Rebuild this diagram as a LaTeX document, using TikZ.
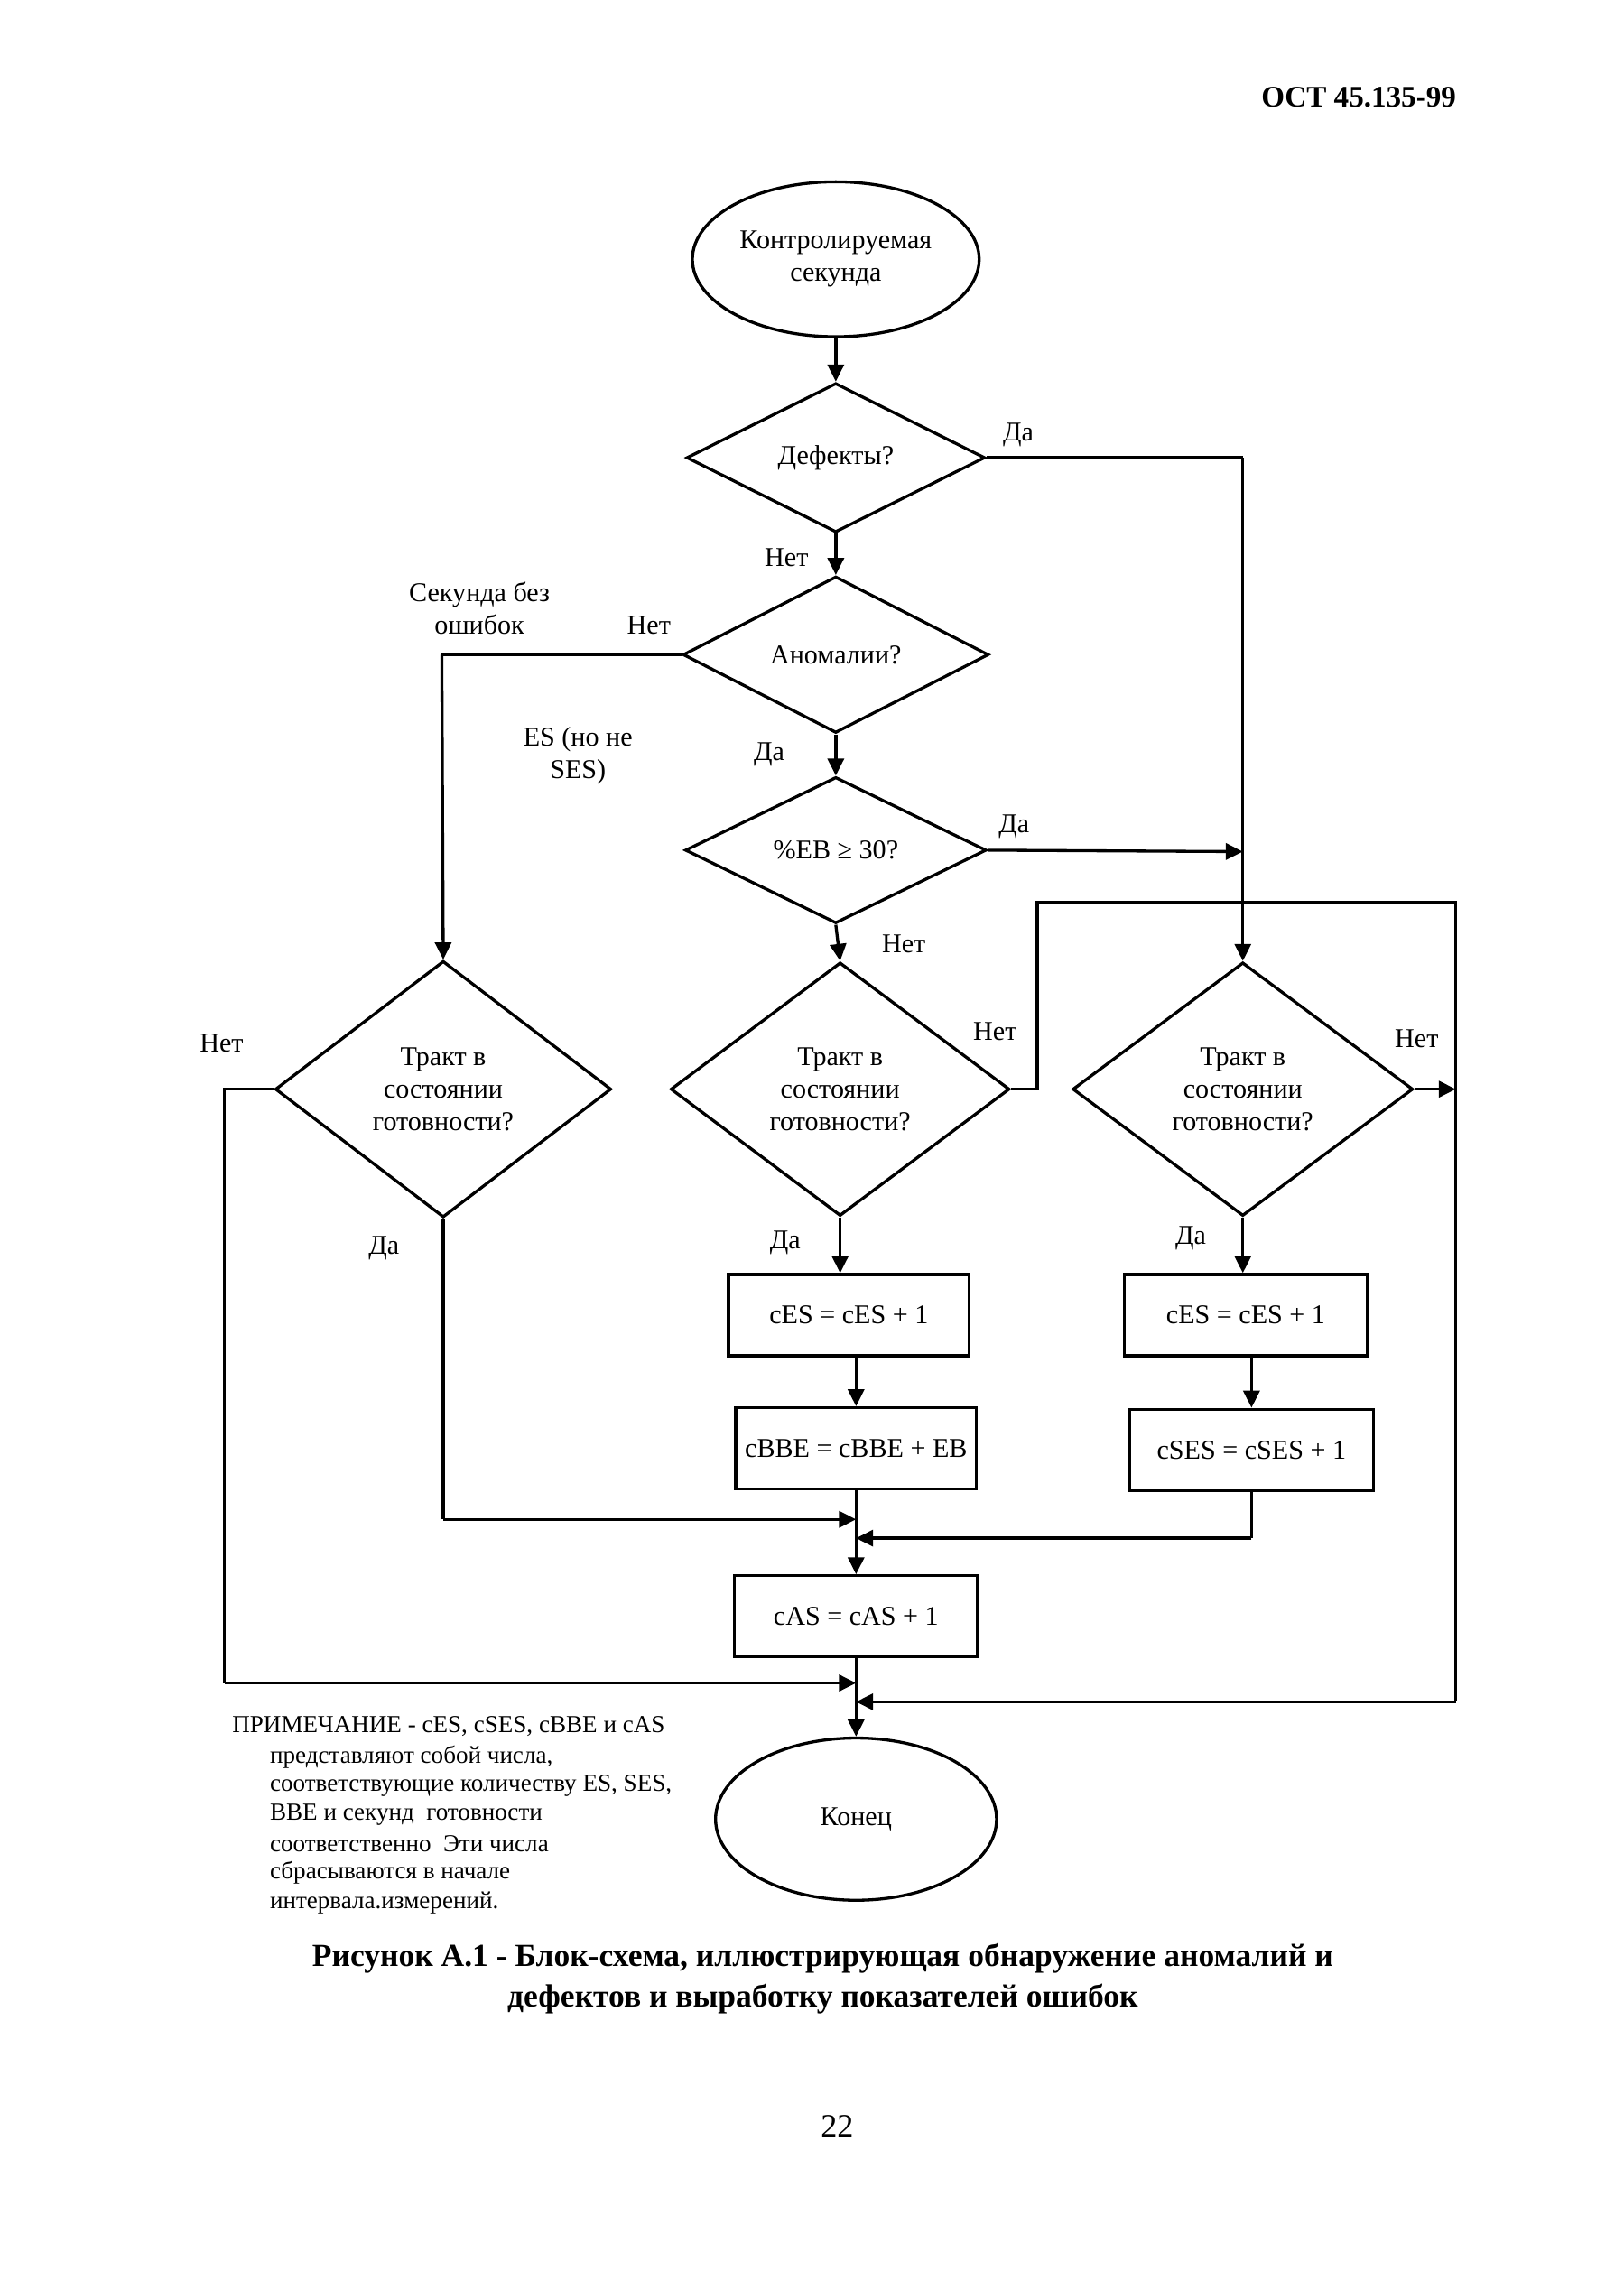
\documentclass[tikz,border=0pt]{standalone}
\usepackage{fontspec}
\setmainfont{Liberation Serif}
\usetikzlibrary{shapes.geometric,arrows.meta}
\begin{document}
\begin{tikzpicture}[x=0.18733mm,y=-0.18733mm,
  txt/.style={font=\fontsize{10}{12}\selectfont},
  dia/.style={diamond, draw, line width=1.1pt, inner sep=0pt, align=center, txt},
  box/.style={rectangle, draw, line width=1.1pt, minimum width=31.1mm, minimum height=10.5mm, inner sep=0pt, txt},
  ell/.style={ellipse, draw, line width=1.1pt, inner sep=0pt, align=center, txt},
  ln/.style={line width=1.1pt},
  arr/.style={line width=1.1pt, -{Triangle[length=2.2mm,width=2.1mm]}},
  lbl/.style={inner sep=0pt, align=center, txt},
  note/.style={inner sep=0pt, anchor=west, font=\fontsize{9}{10.6}\selectfont}
]
\useasboundingbox (0,0) rectangle (1121,1568);

% header
\node[inner sep=0pt, font=\fontsize{11}{13}\selectfont\bfseries] (hdr) at (938,67) {ОСТ 45.135-99};

% nodes
\node[ell, minimum width=37.09mm, minimum height=20.04mm] (E1) at (577,179) {Контролируемая\\секунда};
\node[dia, minimum width=38.59mm, minimum height=19.3mm] (D1) at (577,316) {Дефекты?};
\node[dia, minimum width=39.53mm, minimum height=20.23mm] (D2) at (577,452) {Аномалии?};
\node[dia, minimum width=38.96mm, minimum height=18.92mm] (D3) at (577,587) {\%EB ≥ 30?};
\node[dia, minimum width=43.46mm, minimum height=33.16mm] (DL) at (306,752) {Тракт в\\состоянии\\готовности?};
\node[dia, minimum width=43.84mm, minimum height=32.78mm] (DM) at (580,752) {Тракт в\\состоянии\\готовности?};
\node[dia, minimum width=44.02mm, minimum height=32.78mm] (DR) at (858,752) {Тракт в\\состоянии\\готовности?};
\node[box] (B1) at (586,908) {cES = cES + 1};
\node[box] (B2) at (591,1000) {cBBE = cBBE + EB};
\node[box, minimum width=31.47mm] (B3) at (860,908) {cES = cES + 1};
\node[box, minimum width=31.47mm] (B4) at (864,1001) {cSES = cSES + 1};
\node[box, minimum width=31.47mm] (BAS) at (591,1116) {cAS = cAS + 1};
\node[ell, minimum width=36.34mm, minimum height=20.98mm] (E2) at (591,1256) {Конец};

% helper coordinates
\coordinate (rD1) at (858,316);
\coordinate (lD2) at (305,452);
\coordinate (rD3) at (858,588);
\coordinate (lDL) at (155,752);
\coordinate (lDLb) at (155,1162);
\coordinate (J3) at (591,1162);
\coordinate (cDLb) at (306,1049);
\coordinate (J1) at (591,1049);
\coordinate (cB4b) at (864,1062);
\coordinate (J2) at (591,1062);
\coordinate (mR1) at (716,752);
\coordinate (mR2) at (716,623);
\coordinate (mR3) at (1005,623);
\coordinate (mR4) at (1005,752);
\coordinate (mR5) at (1005,1175);
\coordinate (J4) at (591,1175);

% connectors
\draw[arr] (E1) -- (D1);
\draw[arr] (D1) -- (D2);
\draw[arr] (D2) -- (D3);
\draw[arr] (D3.south) -- (DM.north);
\draw[ln] (D1.east) -- (rD1);
\draw[arr] (rD1) -- (DR.north);
\draw[arr] (D3.east) -- (rD3);
\draw[ln] (D2.west) -- (lD2);
\draw[arr] (lD2) -- (DL.north);
\draw[arr] (DM.south) -- (DM.south |- B1.north);
\draw[arr] (DR.south) -- (DR.south |- B3.north);
\draw[arr] (B2.north |- B1.south) -- (B2.north);
\draw[arr] (B4.north |- B3.south) -- (B4.north);
\draw[arr] (B2.south) -- (BAS.north);
\draw[arr] (BAS.south) -- (E2.north);
\draw[ln] (DL.south) -- (cDLb);
\draw[arr] (cDLb) -- (J1);
\draw[ln] (B4.south) -- (cB4b);
\draw[arr] (cB4b) -- (J2);
\draw[ln] (DL.west) -- (lDL) -- (lDLb);
\draw[arr] (lDLb) -- (J3);
\draw[ln] (DM.east) -- (mR1) -- (mR2) -- (mR3) -- (mR5);
\draw[arr] (mR5) -- (J4);
\draw[arr] (DR.east) -- (mR4);

% labels
\node[lbl] (l1) at (703,300) {Да};
\node[lbl] (l2) at (543,385) {Нет};
\node[lbl] (l3) at (448,432) {Нет};
\node[lbl] (l4) at (331,420) {Секунда без\\ошибок};
\node[lbl] (l5) at (399,522) {ES (но не\\SES)};
\node[lbl] (l6) at (531,521) {Да};
\node[lbl] (l7) at (700,571) {Да};
\node[lbl] (l8) at (624,652) {Нет};
\node[lbl] (l9) at (153,720) {Нет};
\node[lbl] (l10) at (687,712) {Нет};
\node[lbl] (l11) at (978,717) {Нет};
\node[lbl] (l12) at (265,862) {Да};
\node[lbl] (l13) at (542,858) {Да};
\node[lbl] (l14) at (822,855) {Да};

% note
\node[note] (n1) at (160,1192) {ПРИМЕЧАНИЕ - cES, cSES, cBBE и cAS};
\node[note] (n2) at (186,1213) {представляют собой числа,};
\node[note] (n3) at (186,1233) {соответствующие количеству ES, SES,};
\node[note] (n4) at (186,1253) {BBE и секунд\ \ готовности};
\node[note] (n5) at (186,1273) {соответственно\ \ Эти числа};
\node[note] (n6) at (186,1293) {сбрасываются в начале};
\node[note] (n7) at (186,1314) {интервала.измерений.};

% caption
\node[inner sep=0pt, font=\fontsize{11.8}{14}\selectfont\bfseries] (c1) at (568,1352) {Рисунок А.1 - Блок-схема, иллюстрирующая обнаружение аномалий и};
\node[inner sep=0pt, font=\fontsize{11.8}{14}\selectfont\bfseries] (c2) at (568,1380) {дефектов и выработку показателей ошибок};

% page number
\node[inner sep=0pt, font=\fontsize{12}{14}\selectfont] (pg) at (578,1468) {22};
\end{tikzpicture}
\end{document}
